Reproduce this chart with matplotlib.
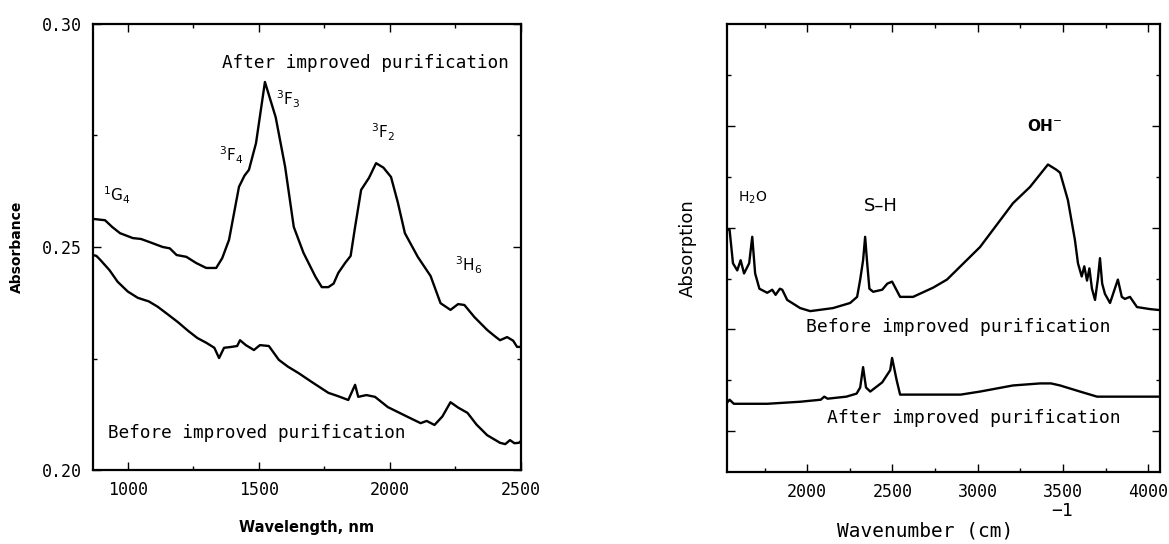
import matplotlib
matplotlib.use("Agg")
import matplotlib.pyplot as plt
from matplotlib.ticker import MultipleLocator, FixedLocator

# ---------------- Left panel data (wavelength, nm / absorbance) ----------------
wl_after = [867, 913, 940, 970, 1019, 1050, 1083, 1133, 1160, 1186, 1223, 1261, 1299, 1337,
            1360, 1386, 1424, 1445, 1462, 1489, 1523, 1564, 1600, 1633, 1670, 1716, 1740,
            1765, 1785, 1803, 1830, 1850, 1867, 1890, 1920, 1947, 1975, 2004, 2030, 2057,
            2106, 2155, 2193, 2231, 2260, 2284, 2322, 2371, 2400, 2420, 2447, 2470, 2485, 2500]
abs_after = [0.2563, 0.2560, 0.2545, 0.2531, 0.2520, 0.2518, 0.2511, 0.2500, 0.2497, 0.2482,
             0.2478, 0.2464, 0.2453, 0.2453, 0.2475, 0.2516, 0.2635, 0.2660, 0.2673, 0.2733,
             0.2870, 0.2791, 0.2680, 0.2545, 0.2487, 0.2433, 0.2410, 0.2410, 0.2418, 0.2442,
             0.2465, 0.2480, 0.2545, 0.2628, 0.2655, 0.2688, 0.2678, 0.2657, 0.2600, 0.2531,
             0.2478, 0.2435, 0.2374, 0.2359, 0.2372, 0.2370, 0.2343, 0.2314, 0.2300, 0.2291,
             0.2298, 0.2290, 0.2276, 0.2276]

wl_before = [867, 880, 895, 930, 961, 1000, 1038, 1080, 1114, 1150, 1190, 1230, 1265, 1300,
             1330, 1348, 1367, 1395, 1417, 1428, 1450, 1481, 1504, 1538, 1576, 1610, 1652,
             1700, 1765, 1800, 1841, 1867, 1879, 1910, 1943, 1992, 2030, 2068, 2117, 2140,
             2170, 2200, 2231, 2260, 2296, 2330, 2371, 2420, 2440, 2458, 2475, 2492, 2500]
abs_before = [0.2482, 0.2480, 0.2471, 0.2448, 0.2422, 0.2400, 0.2386, 0.2378, 0.2366, 0.2350,
              0.2332, 0.2312, 0.2296, 0.2285, 0.2274, 0.2251, 0.2274, 0.2276, 0.2278, 0.2291,
              0.2280, 0.2269, 0.2280, 0.2278, 0.2247, 0.2232, 0.2217, 0.2198, 0.2173, 0.2166,
              0.2157, 0.2191, 0.2164, 0.2168, 0.2164, 0.2141, 0.2130, 0.2119, 0.2105, 0.2110,
              0.2101, 0.2120, 0.2152, 0.2140, 0.2128, 0.2102, 0.2078, 0.2061, 0.2058, 0.2067,
              0.2060, 0.2061, 0.2065]

left_xticks = [1000, 1500, 2000, 2500]
left_yticks = [0.20, 0.25, 0.30]
left_yticklabels = ["0.20", "0.25", "0.30"]

# ---------------- Right panel data (wavenumber, cm^-1 / absorption, a.u.) ----------------
nu_before = [1530, 1545, 1565, 1590, 1610, 1630, 1660, 1678, 1695, 1720, 1766, 1795, 1815,
             1840, 1854, 1883, 1959, 2018, 2152, 2252, 2293, 2311, 2328, 2340, 2352, 2365,
             2387, 2440, 2470, 2498, 2520, 2545, 2621, 2738, 2820, 3014, 3207, 3307, 3412,
             3460, 3483, 3529, 3570, 3588, 3610, 3625, 3641, 3655, 3670, 3688, 3705, 3717,
             3730, 3746, 3776, 3800, 3822, 3845, 3863, 3893, 3934, 4010, 4069]
a_before = [2.38, 2.38, 2.05, 1.98, 2.08, 1.95, 2.05, 2.31, 1.95, 1.80, 1.76, 1.79, 1.74,
            1.80, 1.79, 1.69, 1.61, 1.58, 1.61, 1.66, 1.72, 1.89, 2.08, 2.31, 2.05, 1.80,
            1.77, 1.79, 1.85, 1.87, 1.80, 1.72, 1.72, 1.81, 1.89, 2.21, 2.64, 2.80, 3.02,
            2.97, 2.94, 2.67, 2.28, 2.05, 1.92, 2.02, 1.88, 2.00, 1.80, 1.69, 1.90, 2.10,
            1.85, 1.75, 1.66, 1.78, 1.89, 1.72, 1.70, 1.72, 1.62, 1.60, 1.59]

nu_after = [1530, 1545, 1570, 1640, 1766, 1959, 2080, 2100, 2120, 2230, 2290, 2311, 2328,
            2345, 2370, 2440, 2487, 2498, 2525, 2545, 2738, 2900, 3014, 3207, 3366, 3430,
            3483, 3600, 3700, 4069]
a_after = [0.68, 0.71, 0.67, 0.67, 0.67, 0.69, 0.71, 0.74, 0.72, 0.74, 0.77, 0.83, 1.03,
           0.83, 0.79, 0.88, 1.00, 1.12, 0.90, 0.76, 0.76, 0.76, 0.79, 0.85, 0.87, 0.87,
           0.85, 0.79, 0.74, 0.74]

right_xticks = [2000, 2500, 3000, 3500, 4000]

MONO = "DejaVu Sans Mono"

fig = plt.figure(figsize=(11.69, 5.44), dpi=100)
axL = fig.add_axes([93/1169, 1-470/544, (521-93)/1169, (470-24)/544])
axR = fig.add_axes([727/1169, 1-472/544, (1160-727)/1169, (472-24)/544])

for ax in (axL, axR):
    for s in ax.spines.values():
        s.set_linewidth(1.6)
    ax.tick_params(which="both", direction="in", top=True, right=True, width=1.0)
    ax.tick_params(which="major", length=6)
    ax.tick_params(which="minor", length=3)

# ---- left ----
axL.plot(wl_after, abs_after, color="black", lw=1.7)
axL.plot(wl_before, abs_before, color="black", lw=1.7)
axL.set_xlim(867, 2500)
axL.set_ylim(0.20, 0.30)
axL.set_xticks(left_xticks)
axL.xaxis.set_minor_locator(MultipleLocator(250))
axL.set_yticks(left_yticks)
axL.set_yticklabels(left_yticklabels)
axL.yaxis.set_minor_locator(FixedLocator([0.225, 0.275]))
axL.tick_params(which="major", labelsize=12, pad=8)
for lab in axL.get_xticklabels() + axL.get_yticklabels():
    lab.set_family(MONO)
axL.set_xlabel("Wavelength, nm", fontsize=10.5, fontweight="bold", labelpad=15)
axL.set_ylabel("Absorbance", fontsize=10, fontweight="bold", labelpad=13)

axL.text(1905, 0.2913, "After improved purification", family=MONO, fontsize=12.7,
         ha="center", va="center")
axL.text(1492, 0.2083, "Before improved purification", family=MONO, fontsize=12.7,
         ha="center", va="center")
axL.text(905, 0.2617, r"$^{1}$G$_{4}$", fontsize=11, ha="left", va="center")
axL.text(1349, 0.2706, r"$^{3}$F$_{4}$", fontsize=11, ha="left", va="center")
axL.text(1564, 0.2832, r"$^{3}$F$_{3}$", fontsize=11, ha="left", va="center")
axL.text(1928, 0.2758, r"$^{3}$F$_{2}$", fontsize=11, ha="left", va="center")
axL.text(2250, 0.2460, r"$^{3}$H$_{6}$", fontsize=11, ha="left", va="center")

# ---- right ----
axR.plot(nu_before, a_before, color="black", lw=1.7)
axR.plot(nu_after, a_after, color="black", lw=1.7)
axR.set_xlim(1530, 4069)
axR.set_ylim(0, 4.4)
axR.set_xticks(right_xticks)
axR.xaxis.set_minor_locator(MultipleLocator(250))
axR.yaxis.set_major_locator(FixedLocator([0.4, 1.4, 2.4, 3.4]))
axR.yaxis.set_minor_locator(FixedLocator([0.9, 1.9, 2.9, 3.9]))
axR.set_yticklabels([])
axR.tick_params(which="major", labelsize=12, pad=8)
for lab in axR.get_xticklabels():
    lab.set_family(MONO)
axR.set_ylabel("Absorption", fontsize=13, labelpad=14)

fig.text(925/1169, 1-531/544, "Wavenumber (cm)", family=MONO, fontsize=14,
         ha="center", va="center")
fig.text(1062/1169, 1-511/544, "\u22121", family=MONO, fontsize=13,
         ha="center", va="center")

axR.text(1596, 2.69, r"H$_{2}$O", fontsize=10, ha="left", va="center")
axR.text(2434, 2.61, "S\u2013H", fontsize=13, ha="center", va="center")
axR.text(3395, 3.40, r"OH$^{-}$", fontsize=11, fontweight="bold", ha="center", va="center")
axR.text(2885, 1.42, "Before improved purification", family=MONO, fontsize=13,
         ha="center", va="center")
axR.text(2979, 0.53, "After improved purification", family=MONO, fontsize=13,
         ha="center", va="center")

fig.savefig("out.png", dpi=100)
